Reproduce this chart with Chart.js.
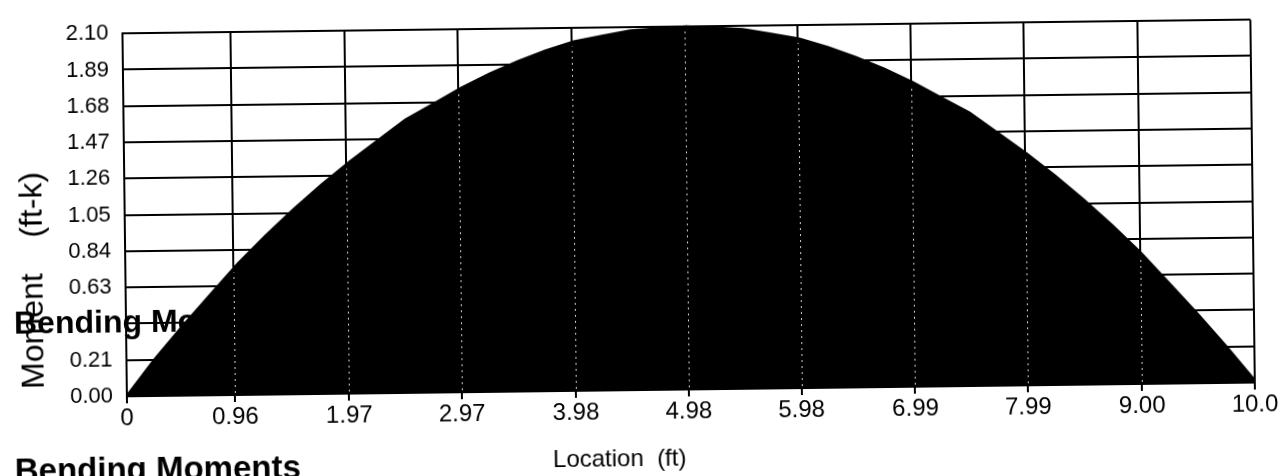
<!DOCTYPE html>
<html><head><meta charset="utf-8">
<script src="https://cdn.jsdelivr.net/npm/chart.js@4.4.1/dist/chart.umd.min.js"></script>
<style>
html,body{margin:0;padding:0;background:#fff;overflow:hidden;width:1286px;height:476px;}
#c{display:block;transform:rotate(-0.7deg);transform-origin:643px 238px;}
</style></head><body>
<canvas id="c" width="1286" height="476"></canvas>
<script>
// Location along the beam (ft) and bending moment (ft-k)
const locations = [0,0.25,0.5,0.75,1.0,1.25,1.5,1.75,2.0,2.25,2.5,2.75,3.0,3.25,3.5,3.75,4.0,4.25,4.5,4.75,5.0,
  5.25,5.5,5.75,6.0,6.25,6.5,6.75,7.0,7.25,7.5,7.75,8.0,8.25,8.5,8.75,9.0,9.25,9.5,9.75,10.0,10.22];
const moments = [0.00,0.21,0.40,0.58,0.76,0.92,1.07,1.21,1.34,1.46,1.58,1.67,1.76,1.84,1.91,1.97,2.02,2.05,2.08,2.09,2.10,
  2.09,2.08,2.05,2.02,1.97,1.91,1.84,1.76,1.67,1.58,1.46,1.34,1.21,1.07,0.92,0.76,0.58,0.40,0.21,0.01,0.01];

const xTickValues = [0,0.96,1.97,2.97,3.98,4.98,5.98,6.99,7.99,9.00,10.0];
const xTickLabels = ['0','0.96','1.97','2.97','3.98','4.98','5.98','6.99','7.99','9.00','10.0'];
const yTickValues = [0,0.21,0.42,0.63,0.84,1.05,1.26,1.47,1.68,1.89,2.10];
const yTickLabels = ['0.00','0.21','0.42','0.63','0.84','1.05','1.26','1.47','1.68','1.89','2.10'];

const chartTitle = 'Bending Moments';
const xAxisTitle = 'Location  (ft)';
const yAxisTitle = 'Moment    (ft-k)';

const FONT = '"Liberation Sans", Arial, sans-serif';

const textPlugin = {
  id: 'texts',
  beforeDatasetsDraw(chart) {
    const ctx = chart.ctx, y = chart.scales.y;
    const py = y.getPixelForValue(0.42);
    ctx.save();
    // overlapping title drawn under the fill, hiding the tick label beneath it
    ctx.fillStyle = '#fff';
    ctx.fillRect(55, py - 13, 62, 26);
    ctx.fillStyle = '#000';
    ctx.font = 'bold 32px ' + FONT;
    ctx.textAlign = 'left';
    ctx.textBaseline = 'alphabetic';
    ctx.fillText(chartTitle, 13, py + 9);
    ctx.restore();
  },
  afterDatasetsDraw(chart) {
    const ctx = chart.ctx, xs = chart.scales.x, ys = chart.scales.y;
    const pts = chart.getDatasetMeta(0).data;
    ctx.save();
    ctx.strokeStyle = '#d0d0d0';
    ctx.lineWidth = 1;
    ctx.setLineDash([2, 4]);
    xTickValues.slice(1, -1).forEach(v => {
      const px = Math.round(xs.getPixelForValue(v)) + 0.5;
      let topY = ys.getPixelForValue(0);
      for (let i = 0; i < pts.length - 1; i++) {
        if (pts[i].x <= px && pts[i + 1].x >= px) {
          const t = (px - pts[i].x) / (pts[i + 1].x - pts[i].x || 1);
          topY = pts[i].y + t * (pts[i + 1].y - pts[i].y);
          break;
        }
      }
      ctx.beginPath();
      ctx.moveTo(px, chart.chartArea.bottom - 2);
      ctx.lineTo(px, topY + 4);
      ctx.stroke();
    });
    ctx.restore();
  },
  afterDraw(chart) {
    const ctx = chart.ctx;
    ctx.save();
    ctx.fillStyle = '#000';
    ctx.textBaseline = 'alphabetic';
    // x axis title
    ctx.font = '24px ' + FONT;
    ctx.textAlign = 'center';
    ctx.fillText(xAxisTitle, 617, 466);
    // bottom label
    ctx.font = 'bold 33px ' + FONT;
    ctx.textAlign = 'left';
    ctx.fillText(chartTitle, 12, 474);
    // y axis title
    ctx.translate(42, 273);
    ctx.rotate(-Math.PI / 2);
    ctx.font = '32px ' + FONT;
    ctx.textAlign = 'center';
    ctx.fillText(yAxisTitle, 0, 0);
    ctx.restore();
  }
};

new Chart(document.getElementById('c'), {
  type: 'line',
  data: {
    datasets: [{
      data: locations.map((x, i) => ({ x: x, y: moments[i] })),
      borderColor: '#000',
      borderWidth: 3,
      backgroundColor: '#000',
      fill: 'origin',
      pointRadius: 0,
      tension: 0,
      clip: false
    }]
  },
  options: {
    responsive: false,
    animation: false,
    devicePixelRatio: 1,
    layout: { padding: { top: 22, right: 33, left: 0, bottom: 0 } },
    plugins: { legend: { display: false }, tooltip: { enabled: false } },
    scales: {
      x: {
        type: 'linear', min: 0, max: 10,
        afterBuildTicks: s => { s.ticks = xTickValues.map(v => ({ value: v })); },
        afterFit: s => { s.height = 86; },
        ticks: {
          autoSkip: false, maxRotation: 0, minRotation: 0,
          callback: (v, i) => xTickLabels[i],
          font: { family: FONT, size: 24 }, color: '#000', padding: 1
        },
        grid: { color: '#000', lineWidth: 2, tickLength: 7, drawTicks: true },
        border: { color: '#000', width: 2 }
      },
      y: {
        type: 'linear', min: 0, max: 2.10,
        afterBuildTicks: s => { s.ticks = yTickValues.map(v => ({ value: v })); },
        afterFit: s => { s.width = 125; },
        ticks: {
          autoSkip: false,
          callback: (v, i) => yTickLabels[i],
          font: { family: FONT, size: 22 }, color: '#000', padding: 14
        },
        grid: { color: '#000', lineWidth: 2, drawTicks: false },
        border: { color: '#000', width: 2 }
      }
    }
  },
  plugins: [textPlugin]
});
</script>
</body></html>
